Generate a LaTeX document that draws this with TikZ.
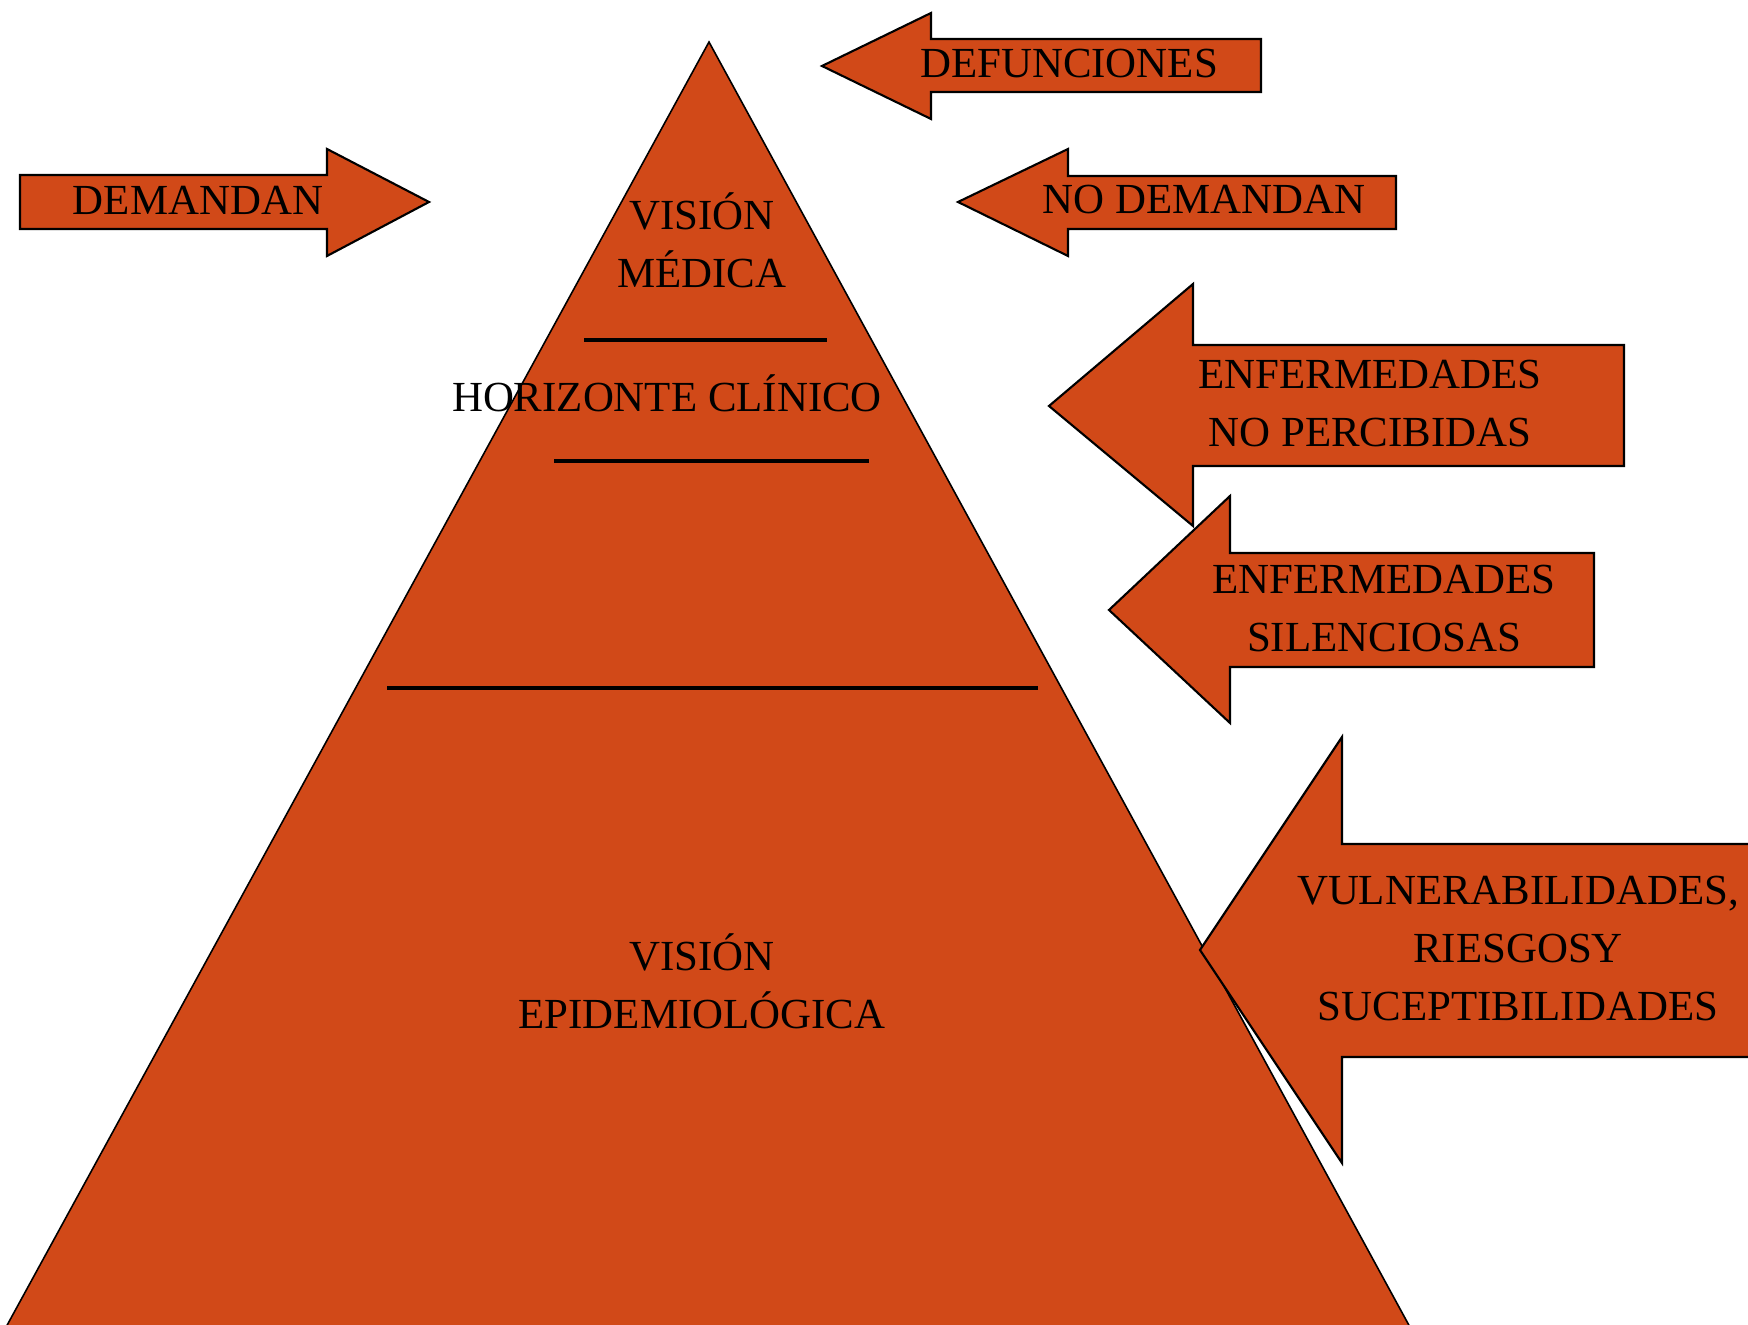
\documentclass[tikz,border=0pt]{standalone}
\usepackage{fontspec}
\setmainfont{Liberation Serif}
\usepackage{tikz}
\definecolor{rust}{RGB}{209,73,24}

\begin{document}
\begin{tikzpicture}[scale=1.0, every node/.style={font=\fontsize{12.2}{16.5}\selectfont, align=center, inner sep=0pt},
    block/.style={fill=rust, draw=black, line width=0.6pt},
    level/.style={draw=black, line width=1.2pt}]
    \useasboundingbox (0,0) rectangle (17.48,13.25);

    % pyramid
    \draw[fill=rust, line width=0.45pt] (7.09,12.83) -- (14.17,-0.15) -- (-0.01,-0.15) -- cycle;

    % levels
    \draw[level] (5.84,9.85) -- (8.27,9.85);
    \draw[level] (5.54,8.64) -- (8.69,8.64);
    \draw[level] (3.87,6.37) -- (10.38,6.37);

    % pyramid texts
    \node (medica) at (7.02,10.85) {VISIÓN\\MÉDICA};
    \node (horizonte) at (6.67,9.32) {HORIZONTE CLÍNICO};
    \node (epidemio) at (7.02,3.44) {VISIÓN\\EPIDEMIOLÓGICA};

    % arrows
    \draw[block] (0.20,11.50) -- (3.27,11.50) -- (3.27,11.76) -- (4.29,11.23) -- (3.27,10.69) -- (3.27,10.96) -- (0.20,10.96) -- cycle;
    \node (demandan) at (1.98,11.25) {DEMANDAN};

    \draw[block] (8.22,12.59) -- (9.31,13.12) -- (9.31,12.86) -- (12.61,12.86) -- (12.61,12.33) -- (9.31,12.33) -- (9.31,12.06) -- cycle;
    \node (defunciones) at (10.69,12.61) {DEFUNCIONES};

    \draw[block] (9.58,11.23) -- (10.68,11.76) -- (10.68,11.49) -- (13.96,11.49) -- (13.96,10.96) -- (10.68,10.96) -- (10.68,10.69) -- cycle;
    \node (nodemandan) at (12.04,11.25) {NO DEMANDAN};

    \draw[block] (10.49,9.19) -- (11.93,10.41) -- (11.93,9.80) -- (16.24,9.80) -- (16.24,8.59) -- (11.93,8.59) -- (11.93,7.99) -- cycle;
    \node (noperc) at (13.70,9.21) {ENFERMEDADES\\NO PERCIBIDAS};

    \draw[block] (11.09,7.15) -- (12.30,8.29) -- (12.30,7.72) -- (15.94,7.72) -- (15.94,6.58) -- (12.30,6.58) -- (12.30,6.02) -- cycle;
    \node (silenc) at (13.84,7.16) {ENFERMEDADES\\SILENCIOSAS};

    \draw[block] (12.00,3.75) -- (13.42,5.88) -- (13.42,4.81) -- (17.60,4.81) -- (17.60,2.68) -- (13.42,2.68) -- (13.42,1.62) -- cycle;
    \node (vuln) at (15.18,3.76) {VULNERABILIDADES,\\RIESGOSY\\SUCEPTIBILIDADES};
\end{tikzpicture}
\end{document}
